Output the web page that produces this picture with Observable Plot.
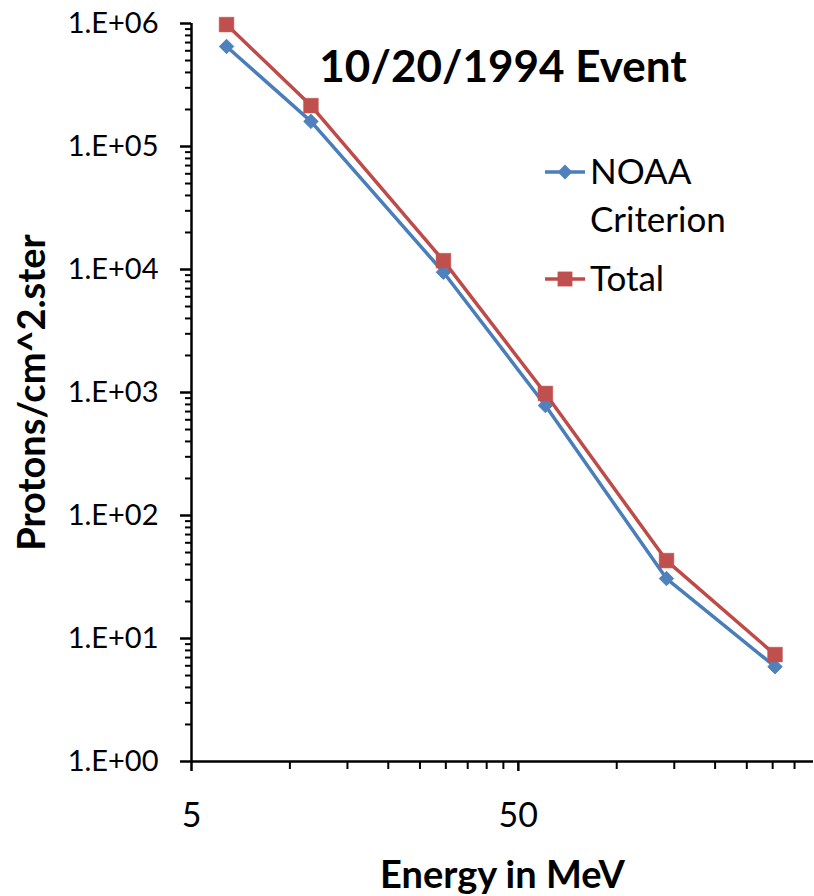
<!DOCTYPE html>
<html>
<head>
<meta charset="utf-8">
<script src="https://cdn.jsdelivr.net/npm/d3@7"></script>
<script src="https://cdn.jsdelivr.net/npm/@observablehq/plot@0.6"></script>
<style>
  html, body { margin: 0; padding: 0; background: #fff; }
  #wrap { position: relative; width: 814px; height: 896px; font-family: Lato, "Open Sans", sans-serif; color: #000; }
  #title { position: absolute; left: 0; width: 1006px; top: 37px; text-align: center; font-weight: bold; font-size: 44px; line-height: 56px; pointer-events: none; }
  #legend { position: absolute; left: 540px; top: 148px; }
</style>
</head>
<body>
<div id="wrap">
  <div id="chart"></div>
  <div id="title">10/20/1994 Event</div>
  <svg id="legend" width="260" height="160"></svg>
</div>
<script>
// Data
const seriesNames = ["NOAA Criterion", "Total"];
const energyMeV = [6.4, 11.6, 29.5, 60.5, 142, 305];
const noaaCriterion = [6.5e5, 1.6e5, 9.5e3, 784, 30.7, 5.9];
const totalProtons = [9.8e5, 2.15e5, 1.18e4, 982, 43, 7.4];
const xMajorTicks = [5, 50];
const xMinorTicks = [10, 15, 20, 25, 30, 35, 40, 45, 100, 150, 200, 250, 300, 350];
const yMajorTicks = [1, 10, 100, 1e3, 1e4, 1e5, 1e6];

const yMinorTicks = [];
for (const base of yMajorTicks.slice(0, -1)) for (let k = 2; k <= 9; k++) yMinorTicks.push(k * base);

const blueLine = "#4A7EBB", blueFill = "#4F81BD";
const redLine = "#BE4B48", redFill = "#C0504D";

const noaaData = energyMeV.map((e, i) => ({e, v: noaaCriterion[i]}));
const totalData = energyMeV.map((e, i) => ({e, v: totalProtons[i]}));

const fmt = d => "1.E+" + String(Math.round(Math.log10(d))).padStart(2, "0");
const FONT = "Lato, 'Open Sans', sans-serif";

const chart = Plot.plot({
  width: 814,
  height: 896,
  marginLeft: 191,
  marginRight: 1,
  marginTop: 23,
  marginBottom: 135,
  style: {fontFamily: FONT, color: "#000", background: "#fff"},
  x: {type: "log", domain: [5, 400]},
  y: {type: "log", domain: [1, 1e6]},
  marks: [
    Plot.axisY(yMinorTicks, {tickSize: 6, strokeWidth: 2, tickFormat: () => "", label: null}),
    Plot.axisY(yMajorTicks, {tickSize: 11, tickPadding: 22, strokeWidth: 2.5, tickFormat: fmt, fontSize: 29, label: null}),
    Plot.axisX(xMinorTicks, {tickSize: 8, strokeWidth: 2, tickFormat: () => "", label: null}),
    Plot.axisX(xMajorTicks, {tickSize: 10, strokeWidth: 2.5, tickFormat: () => "", label: null}),
    Plot.text(xMajorTicks, {x: d => d, frameAnchor: "bottom", lineAnchor: "middle", dy: 55, text: d => String(d), fontSize: 34, fill: "#000"}),
    Plot.ruleX([5], {stroke: "#000", strokeWidth: 2.5}),
    Plot.ruleY([1], {stroke: "#000", strokeWidth: 2.5}),
    Plot.line(noaaData, {x: "e", y: "v", stroke: blueLine, strokeWidth: 3.5}),
    Plot.dot(noaaData, {x: "e", y: "v", symbol: "diamond2", r: 6.5, fill: blueFill, stroke: blueFill, strokeWidth: 1}),
    Plot.line(totalData, {x: "e", y: "v", stroke: redLine, strokeWidth: 3.5}),
    Plot.dot(totalData, {x: "e", y: "v", symbol: "square", r: 8.3, fill: redFill, stroke: redFill, strokeWidth: 0.5}),
    Plot.text(["Protons/cm^2.ster"], {frameAnchor: "left", textAnchor: "middle", lineAnchor: "middle", rotate: -90, dx: -159, fontSize: 38, fontWeight: "bold", fill: "#000"}),
    Plot.text(["Energy in MeV"], {frameAnchor: "bottom", textAnchor: "middle", lineAnchor: "middle", dy: 114, fontSize: 38, fontWeight: "bold", fill: "#000"})
  ]
});
document.getElementById("chart").appendChild(chart);

// Legend
const leg = d3.select("#legend");
const items = [
  {lines: ["NOAA", "Criterion"], color: blueLine, fill: blueFill, sym: d3.symbolDiamond2, size: 140, y: 24},
  {lines: ["Total"], color: redLine, fill: redFill, sym: d3.symbolSquare, size: 220, y: 131}
];
items.forEach((it) => {
  const g = leg.append("g").attr("transform", `translate(0,${it.y})`);
  g.append("line").attr("x1", 5).attr("x2", 45).attr("y1", 0).attr("y2", 0).attr("stroke", it.color).attr("stroke-width", 3.5);
  g.append("path").attr("d", d3.symbol(it.sym, it.size)()).attr("transform", "translate(25,0)").attr("fill", it.fill);
  it.lines.forEach((t, j) => {
    g.append("text").attr("x", 50).attr("y", j * 48).attr("dy", "0.35em")
      .attr("font-size", 35).attr("font-family", FONT).attr("fill", "#000").text(t);
  });
});
</script>
</body>
</html>
